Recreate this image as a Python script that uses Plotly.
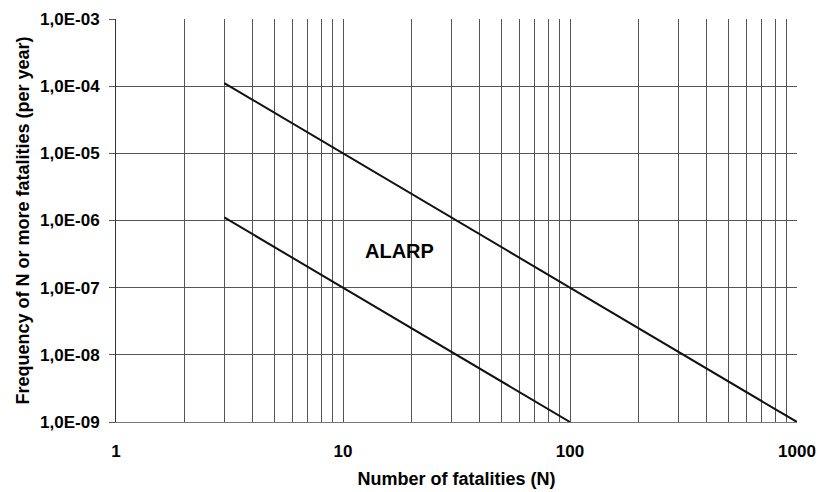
import plotly.graph_objects as go

# Data
upper_n = [3, 1000]
upper_f = [1.11e-4, 1e-9]
lower_n = [3, 100]
lower_f = [1.11e-6, 1e-9]
x_tickvals = [1, 10, 100, 1000]
x_ticktext = ["1", "10", "100", "1000"]
y_tickvals = [1e-9, 1e-8, 1e-7, 1e-6, 1e-5, 1e-4, 1e-3]
y_ticktext = ["1,0E-09", "1,0E-08", "1,0E-07", "1,0E-06", "1,0E-05", "1,0E-04", "1,0E-03"]
minor_x = [m * d for d in [1, 10, 100] for m in range(2, 10)]

fig = go.Figure()
fig.add_trace(go.Scatter(x=upper_n, y=upper_f, mode="lines",
                         line=dict(color="#111", width=2), showlegend=False))
fig.add_trace(go.Scatter(x=lower_n, y=lower_f, mode="lines",
                         line=dict(color="#111", width=2), showlegend=False))

FAM = "Liberation Sans, Arial"
tf = dict(family=FAM, size=17, color="#000", weight="bold")

fig.update_layout(
    width=820, height=492,
    margin=dict(l=116, r=23, t=19, b=70),
    paper_bgcolor="white", plot_bgcolor="white",
    xaxis=dict(type="log", range=[0, 3], tickvals=x_tickvals, ticktext=x_ticktext,
               tickfont=tf, automargin=False,
               showgrid=True, gridcolor="#555", gridwidth=1,
               minor=dict(tickvals=minor_x, showgrid=True, gridcolor="#555", gridwidth=1),
               ticks="", ticklabelstandoff=14,
               showline=True, linecolor="#777", linewidth=1, mirror=False,
               zeroline=False,
               title=dict(text="<b>Number of fatalities (N)</b>", standoff=11,
                          font=dict(family=FAM, size=18, color="#000"))),
    yaxis=dict(type="log", range=[-9, -3], tickvals=y_tickvals, ticktext=y_ticktext,
               tickfont=tf, automargin=False,
               showgrid=True, gridcolor="#555", gridwidth=1,
               ticks="outside", ticklen=6, tickcolor="#555", ticklabelstandoff=6,
               showline=True, linecolor="#333", linewidth=1, mirror=False,
               zeroline=False,
               title=dict(text="<b>Frequency of N or more fatalities (per year)</b>", standoff=5,
                          font=dict(family=FAM, size=18, color="#000"))),
    annotations=[dict(x=1.25, y=-6.45, xref="x", yref="y", text="<b>ALARP</b>",
                      showarrow=False, font=dict(family=FAM, size=20, color="#000"))],
)
fig.write_html("out.html", config={"displayModeBar": False},
               post_script="document.body.style.margin='0';document.body.style.overflow='hidden';")
